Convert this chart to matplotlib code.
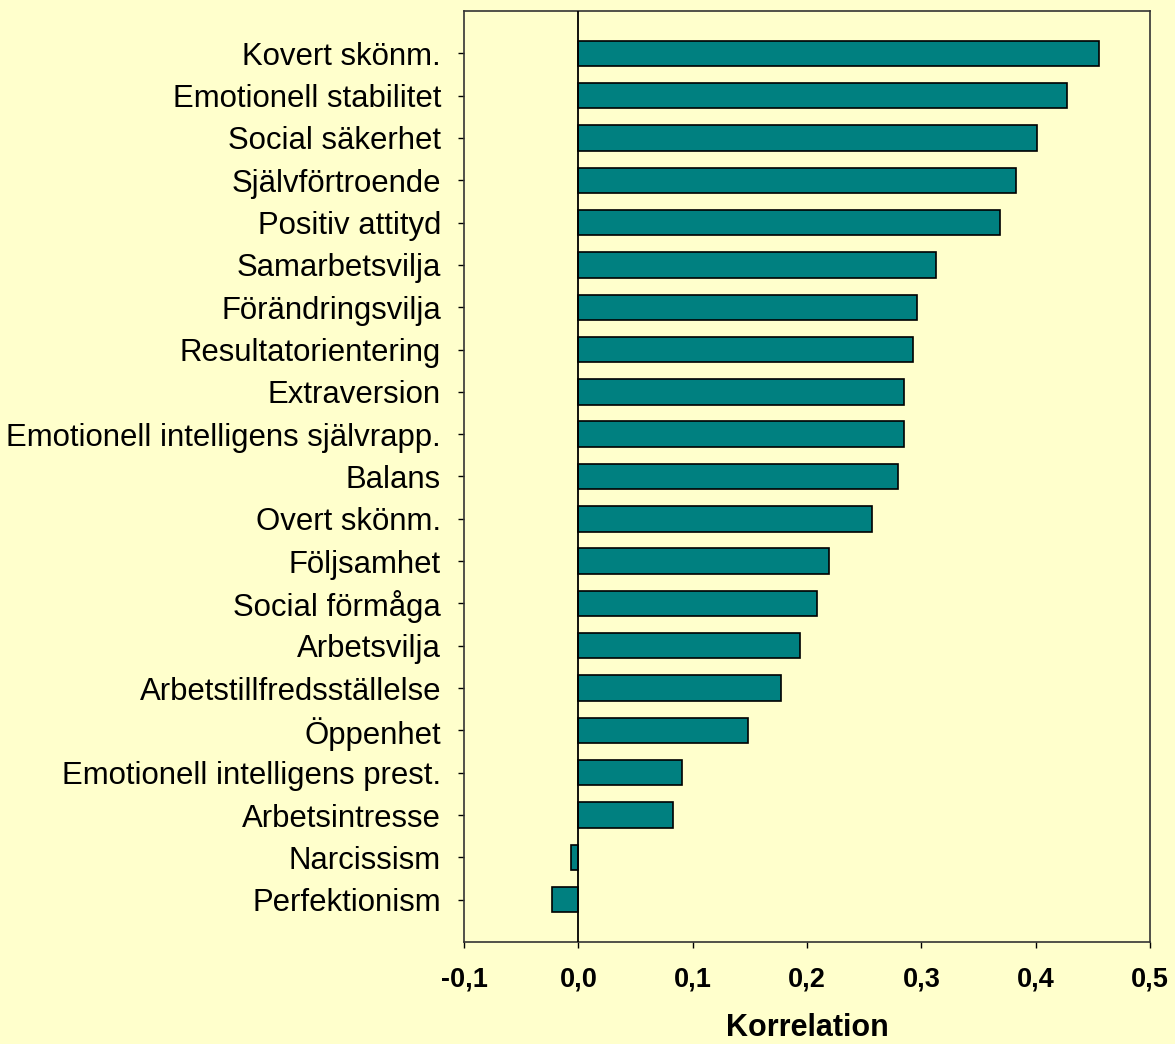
import matplotlib
matplotlib.use("Agg")
import matplotlib.pyplot as plt
from matplotlib.ticker import FuncFormatter

categories = ["Kovert skönm.", "Emotionell stabilitet", "Social säkerhet", "Självförtroende",
              "Positiv attityd", "Samarbetsvilja", "Förändringsvilja", "Resultatorientering",
              "Extraversion", "Emotionell intelligens självrapp.", "Balans", "Overt skönm.",
              "Följsamhet", "Social förmåga", "Arbetsvilja", "Arbetstillfredsställelse",
              "Öppenhet", "Emotionell intelligens prest.", "Arbetsintresse", "Narcissism",
              "Perfektionism"]
values = [0.455, 0.427, 0.401, 0.383, 0.369, 0.313, 0.296, 0.293, 0.285, 0.285, 0.280,
          0.257, 0.219, 0.209, 0.194, 0.177, 0.148, 0.091, 0.083, -0.006, -0.023]
xticks = [-0.1, 0.0, 0.1, 0.2, 0.3, 0.4, 0.5]

plt.rcParams['font.family'] = ['Liberation Sans', 'DejaVu Sans']
bg = '#FFFFCC'
fig = plt.figure(figsize=(11.75, 10.44), dpi=100, facecolor=bg)
ax = fig.add_axes([464/1175, 1-942/1044, (1150-464)/1175, (942-11)/1044])
ax.set_facecolor(bg)

y = list(range(len(categories)))
ax.barh(y, values, height=0.6, color='#008080', edgecolor='black', linewidth=1.2, zorder=3)
ax.axvline(0, color='black', linewidth=1.3, zorder=4)

ax.set_ylim(len(categories), -1)
ax.set_xlim(-0.1, 0.5)
ax.set_yticks(y)
ax.set_yticklabels(categories, fontsize=22.4)
ax.set_xticks(xticks)
ax.xaxis.set_major_formatter(FuncFormatter(lambda v, p: f"{v:.1f}".replace('.', ',')))
for lbl in ax.get_xticklabels():
    lbl.set_fontweight('bold')
    lbl.set_fontsize(19.5)
ax.tick_params(axis='y', direction='out', length=4.5, width=1, pad=12)
ax.tick_params(axis='x', direction='out', length=4.5, width=1, pad=13)
ax.set_xlabel('Korrelation', fontsize=22, fontweight='bold', labelpad=15)
for s in ax.spines.values():
    s.set_linewidth(1.2)
    s.set_color('#333333')

fig.savefig('out.png', dpi=100, facecolor=bg)
